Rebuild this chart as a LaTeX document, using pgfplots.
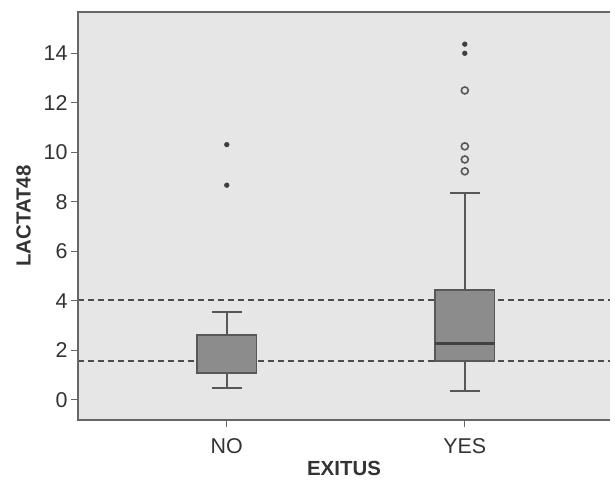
\documentclass[border=0pt]{standalone}
\usepackage{pgfplots}
\pgfplotsset{compat=1.18}
\usepgfplotslibrary{statistics}
\usepackage{fontspec}
\setmainfont{Liberation Sans}
\definecolor{bgcol}{HTML}{E6E6E6}
\definecolor{boxfill}{HTML}{8C8C8C}
\definecolor{boxline}{HTML}{585858}
\definecolor{framecol}{HTML}{666666}
\definecolor{dashcol}{HTML}{4C4C4C}
\definecolor{txtcol}{HTML}{333333}
\begin{document}
\begin{tikzpicture}
\begin{axis}[
  name=ax,
  scale only axis,
  width=532bp, height=408bp,
  xmin=-0.625, xmax=1.61,
  ymin=-0.82, ymax=15.67,
  xtick={0,1}, xticklabels={NO,YES},
  ytick={0,2,4,6,8,10,12,14},
  xtick pos=bottom, ytick pos=left,
  tick align=outside,
  major tick length=7bp,
  tick style={framecol, line width=1.2pt},
  axis background/.style={fill=bgcol},
  axis line style={draw=none},
  /pgf/number format/assume math mode=true,
  tick label style={font=\fontsize{21.5}{24}\selectfont, text=txtcol},
  label style={font=\bfseries\fontsize{20.5}{24}\selectfont, text=txtcol},
  xlabel={EXITUS},
  ylabel={LACTAT48},
  xticklabel style={yshift=-8bp},
  xlabel style={yshift=-1bp},
  ylabel style={yshift=6bp},
  clip=false,
  boxplot/draw direction=y,
  boxplot/box extend=0.25,
  boxplot/whisker extend=0.125,
  boxplot/every box/.style={draw=boxline, fill=boxfill, line width=1.8pt},
  boxplot/every whisker/.style={draw=boxline, line width=1.8pt},
  boxplot/every median/.style={draw=boxline!75!black, line width=3pt},
]
% reference lines
\addplot[dashcol, line width=2pt, dash pattern=on 6bp off 4bp, forget plot]
  coordinates {(-0.625,4.01) (1.61,4.01)};
\addplot[dashcol, line width=2pt, dash pattern=on 6bp off 4bp, forget plot]
  coordinates {(-0.625,1.55) (1.61,1.55)};
% NO
\addplot[boxplot prepared={draw position=0,
  lower whisker=0.46, lower quartile=1.08, median=1.08,
  upper quartile=2.61, upper whisker=3.55},
  boxplot/every median/.style={draw=none}] coordinates {};
% YES
\addplot[boxplot prepared={draw position=1,
  lower whisker=0.36, lower quartile=1.55, median=2.29,
  upper quartile=4.45, upper whisker=8.36}] coordinates {};
% extreme outliers (stars)
\addplot[only marks, mark=*, mark size=2.4bp, draw=boxline!70!black, fill=boxline!70!black]
  coordinates {(0,10.31) (0,8.67) (1,14.37) (1,14.0)};
% outliers (circles)
\addplot[only marks, mark=o, mark size=3.5bp, line width=1.6pt, draw=boxline]
  coordinates {(1,12.5) (1,10.24) (1,9.71) (1,9.23)};
\draw[framecol, line width=1.5pt] (rel axis cs:1,1) -- (rel axis cs:0,1) -- (rel axis cs:0,0) -- (rel axis cs:1,0);
\end{axis}
\useasboundingbox ([xshift=-78bp,yshift=-62bp]ax.south west) rectangle ([xshift=5bp,yshift=12bp]ax.north east);
\end{tikzpicture}
\end{document}
